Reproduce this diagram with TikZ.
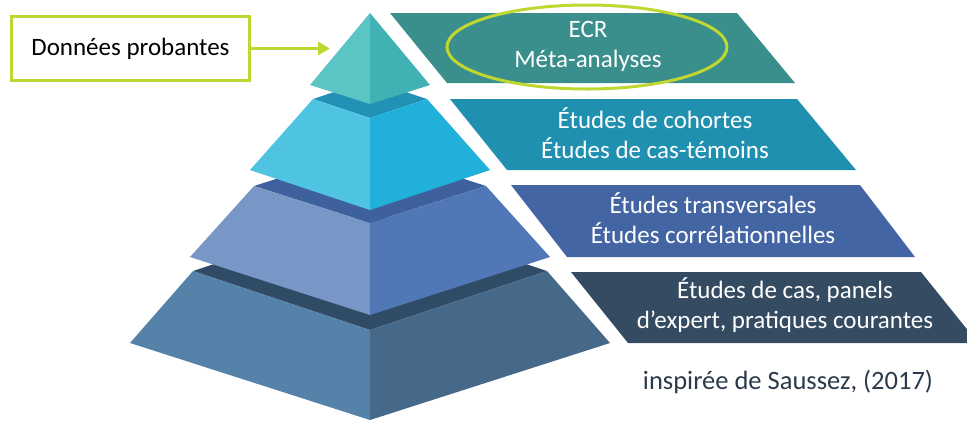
\documentclass[tikz,border=0pt]{standalone}
\usepackage{fontspec}
\setmainfont{Carlito}
\usetikzlibrary{arrows.meta,shapes.geometric}

% palette
\definecolor{limeline}{HTML}{BFD730}
\definecolor{tOneL}{HTML}{5BC4C4}
\definecolor{tOneR}{HTML}{40B2B4}
\definecolor{tTwoT}{HTML}{2192B5}
\definecolor{tTwoL}{HTML}{4EC4E2}
\definecolor{tTwoR}{HTML}{21B0DA}
\definecolor{tThreeT}{HTML}{3E609C}
\definecolor{tThreeL}{HTML}{7897C7}
\definecolor{tThreeR}{HTML}{5178B6}
\definecolor{tFourT}{HTML}{304B66}
\definecolor{tFourL}{HTML}{5482A8}
\definecolor{tFourR}{HTML}{466889}
\definecolor{barOne}{HTML}{3A8F8D}
\definecolor{barTwo}{HTML}{2090B0}
\definecolor{barThree}{HTML}{4365A3}
\definecolor{barFour}{HTML}{344B62}
\definecolor{citecol}{HTML}{2B3A4B}

\begin{document}
\begin{tikzpicture}[x=1pt,y=-1pt,
  bartext/.style={text=white, align=center, inner sep=0pt,
    font=\fontsize{25}{30}\selectfont},
  labelbox/.style={draw=limeline, line width=3pt, minimum width=238pt,
    minimum height=64pt, inner sep=0pt, font=\fontsize{25}{30}\selectfont},
  ringmark/.style={ellipse, draw=limeline, line width=3pt,
    minimum width=280pt, minimum height=84pt, inner sep=0pt},
  pointer/.style={draw=limeline, line width=3pt,
    -{Triangle[length=12pt,width=13pt]}}
]
\useasboundingbox (0,0) rectangle (967,421);
\clip (0,0) rectangle (967,421);

% ---- pyramid, bottom tier first ----
% tier 4
\fill[tFourT] (193,271) -- (370,212) -- (547,271) -- (370,330) -- cycle;
\fill[tFourL] (193,271) -- (370,330) -- (370,420) -- (130,343) -- cycle;
\fill[tFourR] (370,330) -- (547,271) -- (610,343) -- (370,420) -- cycle;
% tier 3
\fill[tThreeT] (254,186) -- (370,149) -- (486,186) -- (370,223) -- cycle;
\fill[tThreeL] (254,186) -- (370,223) -- (370,315) -- (190,257) -- cycle;
\fill[tThreeR] (370,223) -- (486,186) -- (550,257) -- (370,315) -- cycle;
% tier 2
\fill[tTwoT] (313,99) -- (370,80) -- (427,99) -- (370,118) -- cycle;
\fill[tTwoL] (313,99) -- (370,118) -- (370,210) -- (250,170) -- cycle;
\fill[tTwoR] (370,118) -- (427,99) -- (490,170) -- (370,210) -- cycle;
% tier 1
\fill[tOneL] (370,13) -- (310,85) -- (370,104) -- cycle;
\fill[tOneR] (370,13) -- (370,104) -- (430,85) -- cycle;

% ---- level bars ----
\fill[barOne]   (390,13)  -- (737,13)  -- (795,83)  -- (447,83)  -- cycle;
\fill[barTwo]   (450,99)  -- (797,99)  -- (856,170) -- (507,170) -- cycle;
\fill[barThree] (511,185) -- (860,185) -- (915,257) -- (567,257) -- cycle;
\fill[barFour]  (571,272) -- (921,272) -- (978,343) -- (628,343) -- cycle;

% ---- bar labels ----
\node[bartext] (lvlA) at (588,46)  {ECR\\Méta-analyses};
\node[bartext] (lvlB) at (655,133) {Études de cohortes\\Études de cas-témoins};
\node[bartext] (lvlC) at (713,218) {Études transversales\\Études corrélationnelles};
\node[bartext] (lvlD) at (785,305) {Études de cas, panels\\d’expert, pratiques courantes};

% highlight ring on the top level
\node[ringmark] (ring) at (587,47) {};

% ---- callout ----
\node[labelbox] (evid) at (130.5,48.5) {Données probantes};
\coordinate (apexpt) at (330,48.5);
\draw[pointer] (evid.east) -- (apexpt);

% ---- source ----
\node[text=citecol, inner sep=0pt, font=\fontsize{26.5}{31}\selectfont]
  (src) at (788,382) {inspirée de Saussez, (2017)};
\end{tikzpicture}
\end{document}
